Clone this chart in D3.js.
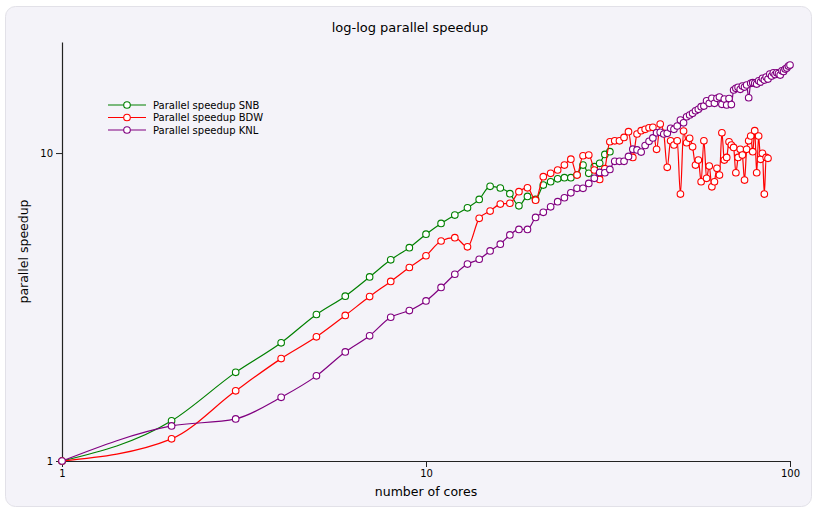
<!DOCTYPE html>
<html>
<head>
<meta charset="utf-8">
<script src="https://cdn.jsdelivr.net/npm/d3@7/dist/d3.min.js"></script>
<style>
  html, body { margin: 0; padding: 0; background: #ffffff; }
  svg { display: block; font-family: "DejaVu Sans", sans-serif; }
</style>
</head>
<body>
<svg id="chart" width="814" height="509"></svg>
<script>
// ---- data (speedup vs number of cores, cores = index + 1) ----
const seriesNames = ["Parallel speedup SNB", "Parallel speedup BDW", "Parallel speedup KNL"];
const seriesColors = ["#008000", "#ff0000", "#800080"];

const snbSpeedup = [1, 1.35, 1.94, 2.42, 2.99, 3.43, 3.96, 4.50, 4.93, 5.45,
  5.91, 6.29, 6.64, 7.07, 7.80, 7.70, 7.38, 6.74, 7.23, 7.07,
  7.87, 8.07, 8.25, 8.32, 8.32, 8.50, 9.14, 8.59, 9.03, 9.26,
  9.90, 10.1];

const bdwSpeedup = [1, 1.18, 1.69, 2.15, 2.53, 2.97, 3.42, 3.83, 4.25, 4.64,
  5.18, 5.31, 4.96, 6.14, 6.48, 6.83, 6.87, 7.49, 7.71, 7.03,
  8.38, 8.59, 8.81, 9.14, 9.55, 8.48, 9.80, 9.85, 8.81, 8.21,
  8.90, 10.88, 10.96, 10.96, 11.24, 11.73, 9.68, 11.53, 11.82, 11.94,
  12.08, 12.12, 10.28, 12.42, 11.58, 8.99, 10.96, 10.62, 10.96, 7.36,
  11.79, 10.80, 11.16, 10.48, 9.14, 9.49, 8.07, 10.96, 8.28, 9.07,
  7.77, 8.07, 8.92, 8.48, 11.64, 9.49, 9.68, 10.88, 10.62, 10.43,
  8.63, 9.68, 10.28, 9.85, 8.17, 10.28, 10.96, 11.36, 10.10, 11.82,
  8.63, 11.36, 9.54, 9.98, 7.36, 9.68, 9.61];

const knlSpeedup = [1, 1.30, 1.37, 1.61, 1.89, 2.26, 2.55, 2.93, 3.08, 3.31,
  3.66, 4.04, 4.36, 4.52, 4.81, 5.06, 5.42, 5.65, 5.65, 6.18,
  6.42, 6.69, 6.95, 7.16, 7.43, 7.68, 7.68, 7.97, 8.28, 8.65,
  8.63, 8.85, 9.40, 9.40, 9.40, 9.75, 10.29, 10.24, 10.07, 10.58,
  10.92, 11.20, 11.63, 11.68, 11.53, 11.59, 12.03, 11.94, 12.24, 12.80,
  12.54, 13.12, 13.29, 13.46, 13.72, 13.87, 14.14, 14.21, 14.78, 14.50,
  15.05, 14.50, 15.05, 15.20, 14.39, 14.97, 14.32, 15.03, 14.37, 16.02,
  16.23, 16.35, 16.10, 16.51, 16.38, 16.63, 15.12, 16.84, 16.92, 16.84,
  16.75, 17.17, 17.00, 17.48, 17.26, 17.65, 17.39, 18.05, 17.78, 18.23,
  17.98, 18.23, 18.12, 17.92, 18.50, 18.39, 18.74, 18.88, 19.16, 19.31];

const xTicks = [1, 10, 100];
const yTicks = [1, 10];
const titleText = "log-log parallel speedup";
const xLabelText = "number of cores";
const yLabelText = "parallel speedup";

// ---- drawing ----
(function () {
const svg = d3.select("#chart");

svg.append("rect")
  .attr("x", 5.5).attr("y", 6.5)
  .attr("width", 806).attr("height", 500)
  .attr("rx", 10).attr("ry", 10)
  .attr("fill", "#f4f3f9")
  .attr("stroke", "#e2e1e8")
  .attr("stroke-width", 1);

const plotL = 62, plotR = 790, plotT = 42, plotB = 461;

const allSeries = [snbSpeedup, bdwSpeedup, knlSpeedup];
const yMax = d3.max(allSeries.flat()) * 1.188;

const x = d3.scaleLog().domain([1, 100]).range([plotL, plotR]);
const y = d3.scaleLog().domain([1, yMax]).range([plotB, plotT]);

svg.append("text")
  .attr("x", 410).attr("y", 32)
  .attr("text-anchor", "middle")
  .attr("font-size", 13)
  .attr("fill", "#000")
  .text(titleText);

const xAxis = svg.append("g")
  .attr("transform", `translate(0,${plotB})`)
  .call(d3.axisBottom(x).tickValues(xTicks).tickFormat(d3.format("d")).tickSizeInner(6).tickSizeOuter(0));
const yAxis = svg.append("g")
  .attr("transform", `translate(${plotL},0)`)
  .call(d3.axisLeft(y).tickValues(yTicks).tickFormat(d3.format("d")).tickSizeInner(6).tickSizeOuter(0));

[xAxis, yAxis].forEach(g => {
  g.selectAll("path.domain").attr("stroke", "#222").attr("stroke-width", 1.2);
  g.selectAll(".tick line").attr("stroke", "#222");
  g.selectAll(".tick text").attr("font-size", 10).attr("fill", "#000")
    .attr("font-family", "DejaVu Sans, sans-serif");
});

svg.append("text")
  .attr("x", (plotL + plotR) / 2).attr("y", 496)
  .attr("text-anchor", "middle")
  .attr("font-size", 12.5)
  .attr("fill", "#000")
  .text(xLabelText);

svg.append("text")
  .attr("transform", `translate(28,${(plotT + plotB) / 2}) rotate(-90)`)
  .attr("text-anchor", "middle")
  .attr("font-size", 12.5)
  .attr("fill", "#000")
  .text(yLabelText);

const line = d3.line()
  .x((d, i) => x(i + 1))
  .y(d => y(d))
  .curve(d3.curveMonotoneX);

allSeries.forEach((vals, si) => {
  const g = svg.append("g");
  g.append("path")
    .datum(vals)
    .attr("d", line)
    .attr("fill", "none")
    .attr("stroke", seriesColors[si])
    .attr("stroke-width", 1.2);
  g.selectAll("circle")
    .data(vals)
    .join("circle")
    .attr("cx", (d, i) => x(i + 1))
    .attr("cy", d => y(d))
    .attr("r", 3.3)
    .attr("fill", "#ffffff")
    .attr("stroke", seriesColors[si])
    .attr("stroke-width", 1.1);
});

// legend
const legend = svg.append("g");
seriesNames.forEach((name, i) => {
  const ly = 105 + i * 12.5;
  legend.append("line")
    .attr("x1", 108).attr("x2", 146)
    .attr("y1", ly).attr("y2", ly)
    .attr("stroke", seriesColors[i]).attr("stroke-width", 1.2);
  legend.append("circle")
    .attr("cx", 127).attr("cy", ly).attr("r", 3.3)
    .attr("fill", "#ffffff")
    .attr("stroke", seriesColors[i]).attr("stroke-width", 1.1);
  legend.append("text")
    .attr("x", 153).attr("y", ly)
    .attr("dy", "0.35em")
    .attr("font-size", 10)
    .attr("fill", "#000")
    .text(name);
});
})();
</script>
</body>
</html>
